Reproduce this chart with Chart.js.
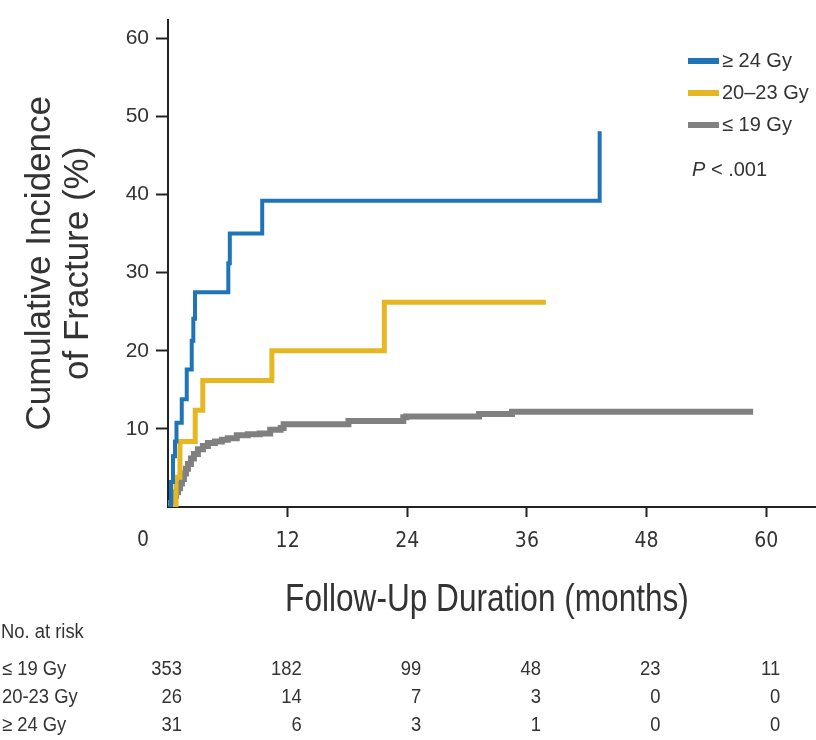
<!DOCTYPE html>
<html>
<head>
<meta charset="utf-8">
<script src="https://cdn.jsdelivr.net/npm/chart.js@4.4.0/dist/chart.umd.min.js"></script>
<style>
  html, body { margin: 0; padding: 0; background: #fff; }
  #wrap { width: 816px; height: 740px; }
</style>
</head>
<body>
<div id="wrap"><canvas id="chart" width="816" height="740"></canvas></div>
<script>
// Cumulative incidence of fracture by dose group (step curves + at-risk table)

const REG = '"Liberation Sans", Arial, sans-serif';
const NARROW = '"DejaVu Sans Condensed", "Liberation Sans", sans-serif';
const TXT = '#333';

const groupLabels = ['≥ 24 Gy', '20–23 Gy', '≤ 19 Gy'];
const groupColors = ['#1f74b8', '#e5b723', '#808080'];

// >= 24 Gy
const highMonths = [0, 0.3, 0.5, 0.7, 0.85, 1.38, 1.88, 2.38, 2.54, 2.71, 6.05, 6.2, 9.45, 43.3];
const highPct    = [0, 3.2, 6.5, 8.4, 10.8, 13.8, 17.6, 21.3, 24.1, 27.5, 31.2, 35.0, 39.2, 48.1];

// 20-23 Gy
const midMonths = [0, 0.8, 1.2, 2.73, 3.49, 10.42, 21.7, 37.9];
const midPct    = [0, 3.8, 8.4, 12.4, 16.2, 20.0, 26.2, 26.2];

// <= 19 Gy
const lowMonths = [0, 0.2, 0.4, 0.6, 0.8, 1.0, 1.2, 1.4, 1.6, 1.8, 2.0, 2.3, 2.6, 3.0, 3.5, 4.0, 4.7, 5.4, 6.0, 6.9, 8.0, 9.2, 10.25, 11.3, 11.6, 18.1, 23.6, 23.9, 31.2, 34.5, 58.7];
const lowPct    = [0, 0.5, 0.9, 1.4, 1.9, 2.4, 3.0, 3.6, 4.3, 4.9, 5.5, 6.2, 6.8, 7.4, 7.8, 8.2, 8.4, 8.6, 8.8, 9.2, 9.3, 9.4, 9.9, 10.1, 10.6, 11.0, 11.5, 11.6, 11.9, 12.2, 12.2];

const xTickValues = [12, 24, 36, 48, 60];
const yTickValues = [10, 20, 30, 40, 50, 60];
const xTitle = 'Follow-Up Duration (months)';

// number at risk
const riskMonths = [0, 12, 24, 36, 48, 60];
const riskLabels = ['≤ 19 Gy', '20-23 Gy', '≥ 24 Gy'];
const riskLow  = [353, 182, 99, 48, 23, 11];
const riskMid  = [26, 14, 7, 3, 0, 0];
const riskHigh = [31, 6, 3, 1, 0, 0];

function toPoints(xs, ys) {
    return xs.map((x, i) => ({ x: x, y: ys[i] }));
}

const series = [
    { data: toPoints(highMonths, highPct), width: 4 },
    { data: toPoints(midMonths, midPct), width: 5 },
    { data: toPoints(lowMonths, lowPct), width: 6 }
];

// draws a condensed string by squeezing it horizontally
function squeezedText(ctx, text, x, y, sx, align) {
    ctx.save();
    ctx.translate(x, y);
    ctx.scale(sx, 1);
    ctx.textAlign = align;
    ctx.fillText(text, 0, 0);
    ctx.restore();
}

const decor = {
    id: 'decor',
    afterDraw(chart) {
        const ctx = chart.ctx;
        const area = chart.chartArea;
        const xs = chart.scales.x;
        ctx.save();
        ctx.fillStyle = TXT;
        ctx.textBaseline = 'middle';

        // origin "0"
        ctx.font = '21px ' + NARROW;
        ctx.textAlign = 'center';
        ctx.fillText('0', xs.getPixelForValue(0) - 25, area.bottom + 34);

        // x title, condensed look
        ctx.font = '39px ' + REG;
        squeezedText(ctx, xTitle, (area.left + area.right) / 2 - 5, area.bottom + 93, 0.81, 'center');

        // legend
        const legX = area.right - 128;
        const legY = [61, 93, 125];
        ctx.font = '20px ' + REG;
        ctx.textAlign = 'left';
        groupLabels.forEach((lab, i) => {
            ctx.fillStyle = groupColors[i];
            ctx.fillRect(legX, legY[i] - 3, 31, 6);
            ctx.fillStyle = TXT;
            ctx.fillText(lab, legX + 34, legY[i]);
        });

        // P value
        ctx.font = 'italic 20px ' + REG;
        ctx.fillText('P', legX + 4, 170);
        const pw = ctx.measureText('P').width;
        ctx.font = '20px ' + REG;
        ctx.fillText(' < .001', legX + 4 + pw, 170);

        // at-risk table
        ctx.font = '20px ' + REG;
        squeezedText(ctx, 'No. at risk', 1, 632, 0.92, 'left');
        const rowY = [669, 697, 725];
        const rows = [riskLow, riskMid, riskHigh];
        rows.forEach((vals, r) => {
            squeezedText(ctx, riskLabels[r], 2, rowY[r], 0.92, 'left');
            vals.forEach((v, i) => {
                squeezedText(ctx, String(v), xs.getPixelForValue(riskMonths[i]) + 14, rowY[r], 0.92, 'right');
            });
        });
        ctx.restore();
    }
};

const ctx = document.getElementById('chart').getContext('2d');
new Chart(ctx, {
    type: 'line',
    data: {
        datasets: series.map((s, i) => ({
            label: groupLabels[i],
            data: s.data,
            borderColor: groupColors[i],
            borderWidth: s.width,
            stepped: 'before',
            pointRadius: 0,
            fill: false,
            borderCapStyle: 'butt',
            borderJoinStyle: 'miter'
        }))
    },
    options: {
        responsive: false,
        animation: false,
        layout: { padding: { top: 10, right: 0, bottom: 113, left: 0 } },
        plugins: { legend: { display: false }, tooltip: { enabled: false } },
        scales: {
            x: {
                type: 'linear',
                min: 0,
                max: 65,
                afterFit: s => { s.height = 120; },
                afterBuildTicks: s => { s.ticks = xTickValues.map(v => ({ value: v })); },
                border: { display: true, color: '#222', width: 2 },
                grid: { drawOnChartArea: false, drawTicks: true, tickLength: 10, tickColor: '#222', tickWidth: 2 },
                ticks: { padding: 12, color: TXT, maxRotation: 0, font: { family: NARROW, size: 21 } },
                title: { display: false }
            },
            y: {
                type: 'linear',
                min: 0,
                max: 62.4,
                afterFit: s => { s.width = 168; },
                afterBuildTicks: s => { s.ticks = yTickValues.map(v => ({ value: v })); },
                border: { display: true, color: '#222', width: 2 },
                grid: { drawOnChartArea: false, drawTicks: true, tickLength: 12, tickColor: '#222', tickWidth: 2 },
                ticks: { padding: 7, color: TXT, font: { family: REG, size: 21 } },
                title: {
                    display: true,
                    text: ['Cumulative Incidence', 'of Fracture (%)'],
                    color: TXT,
                    font: { family: REG, size: 35, lineHeight: '38px' },
                    padding: { top: 21, bottom: 0 }
                }
            }
        }
    },
    plugins: [decor]
});
</script>
</body>
</html>
